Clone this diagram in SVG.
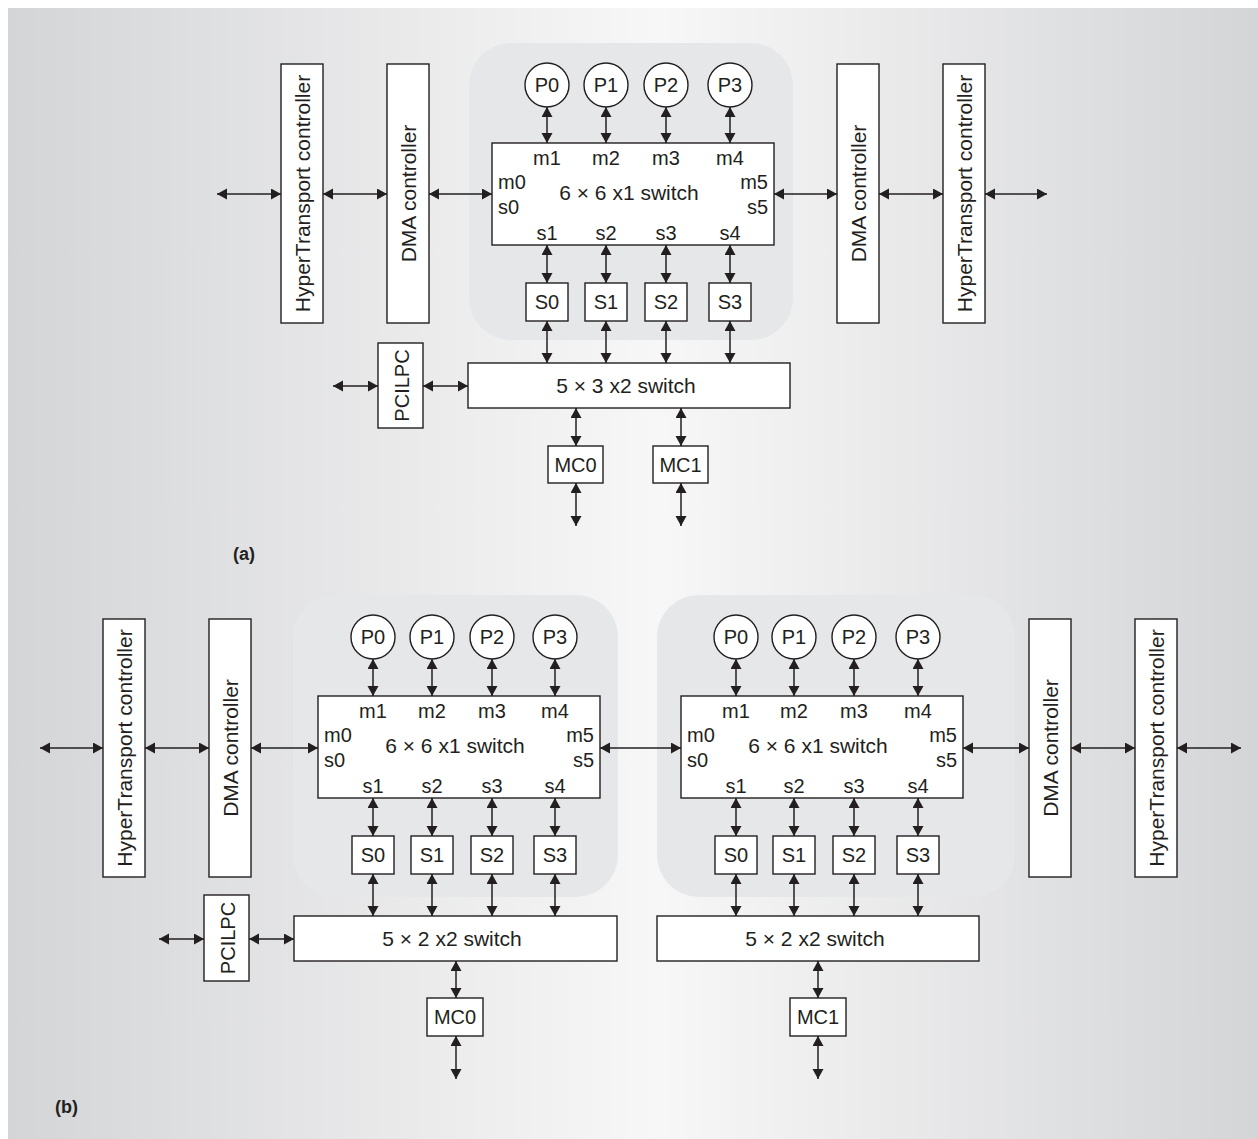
<svg xmlns="http://www.w3.org/2000/svg" width="1258" height="1139" viewBox="0 0 1258 1139">
<defs>
<linearGradient id="bg" x1="0" y1="0" x2="1" y2="0">
<stop offset="0" stop-color="#d4d5d7"/>
<stop offset="0.52" stop-color="#f7f7f7"/>
<stop offset="1" stop-color="#d4d5d7"/>
</linearGradient>
<marker id="ah" markerUnits="userSpaceOnUse" markerWidth="11" markerHeight="12" refX="10" refY="5.5" orient="auto-start-reverse">
<path d="M0,0 L10,5.5 L0,11 z" fill="#231f20"/>
</marker>
</defs>
<style>
.box{fill:#fff;stroke:#231f20;stroke-width:1.4}
.zone{fill:#e6e7e8}
.t{font-family:"Liberation Sans",Arial,Helvetica,sans-serif;font-size:20px;fill:#231f20}
.big{font-size:21px}
.c{text-anchor:middle}
.r{text-anchor:end}
.lab{font-family:"Liberation Sans",Arial,Helvetica,sans-serif;font-size:18px;font-weight:bold;fill:#231f20}
.cn line{stroke:#231f20;stroke-width:1.5;marker-start:url(#ah);marker-end:url(#ah)}
</style>
<rect x="0" y="0" width="1258" height="1139" fill="#fff"/>
<rect x="8" y="8" width="1250" height="1131" fill="url(#bg)"/>

<!-- zones -->
<rect class="zone" x="469" y="43" width="324" height="297" rx="42"/>
<rect class="zone" x="293" y="595" width="325" height="302" rx="42"/>
<rect class="zone" x="657" y="595" width="358" height="302" rx="42"/>

<!-- ===== Panel (a) ===== -->
<g id="a-ht-left"><rect class="box" x="281" y="64" width="42" height="259"/><text class="t big c" transform="translate(310,193.5) rotate(-90)">HyperTransport controller</text></g>
<g id="a-dma-left"><rect class="box" x="387" y="64" width="42" height="259"/><text class="t big c" transform="translate(416,193.5) rotate(-90)">DMA controller</text></g>
<g id="a-dma-right"><rect class="box" x="837" y="64" width="42" height="259"/><text class="t big c" transform="translate(866,193.5) rotate(-90)">DMA controller</text></g>
<g id="a-ht-right"><rect class="box" x="943" y="64" width="42" height="259"/><text class="t big c" transform="translate(972,193.5) rotate(-90)">HyperTransport controller</text></g>

<g id="a-p0"><circle class="box" cx="547" cy="85" r="22"/><text class="t c" x="547" y="92">P0</text></g>
<g id="a-p1"><circle class="box" cx="606" cy="85" r="22"/><text class="t c" x="606" y="92">P1</text></g>
<g id="a-p2"><circle class="box" cx="666" cy="85" r="22"/><text class="t c" x="666" y="92">P2</text></g>
<g id="a-p3"><circle class="box" cx="730" cy="85" r="22"/><text class="t c" x="730" y="92">P3</text></g>

<g id="a-switch6">
<rect class="box" x="492" y="143" width="282" height="102"/>
<text class="t big c" x="629" y="200">6 × 6 x1 switch</text>
<text class="t c" x="547" y="165">m1</text><text class="t c" x="606" y="165">m2</text><text class="t c" x="666" y="165">m3</text><text class="t c" x="730" y="165">m4</text>
<text class="t c" x="547" y="240">s1</text><text class="t c" x="606" y="240">s2</text><text class="t c" x="666" y="240">s3</text><text class="t c" x="730" y="240">s4</text>
<text class="t" x="498" y="189">m0</text><text class="t" x="498" y="214">s0</text>
<text class="t r" x="768" y="189">m5</text><text class="t r" x="768" y="214">s5</text>
</g>

<g id="a-s0"><rect class="box" x="526" y="283" width="42" height="38"/><text class="t c" x="547" y="309">S0</text></g>
<g id="a-s1"><rect class="box" x="585" y="283" width="42" height="38"/><text class="t c" x="606" y="309">S1</text></g>
<g id="a-s2"><rect class="box" x="645" y="283" width="42" height="38"/><text class="t c" x="666" y="309">S2</text></g>
<g id="a-s3"><rect class="box" x="709" y="283" width="42" height="38"/><text class="t c" x="730" y="309">S3</text></g>

<g id="a-switch5"><rect class="box" x="468" y="363" width="322" height="45"/><text class="t big c" x="626" y="393">5 × 3 x2 switch</text></g>
<g id="a-pcilpc"><rect class="box" x="378" y="343" width="45" height="85"/><text class="t c" transform="translate(408.5,385.5) rotate(-90)">PCILPC</text></g>
<g id="a-mc0"><rect class="box" x="548" y="446" width="55" height="37"/><text class="t c" x="575.5" y="472">MC0</text></g>
<g id="a-mc1"><rect class="box" x="653" y="446" width="55" height="37"/><text class="t c" x="680.5" y="472">MC1</text></g>
<text class="lab" x="233" y="560">(a)</text>

<!-- ===== Panel (b) ===== -->
<g id="b-ht-left"><rect class="box" x="103" y="619" width="42" height="258"/><text class="t big c" transform="translate(132,748) rotate(-90)">HyperTransport controller</text></g>
<g id="b-dma-left"><rect class="box" x="209" y="619" width="42" height="258"/><text class="t big c" transform="translate(238,748) rotate(-90)">DMA controller</text></g>
<g id="b-dma-right"><rect class="box" x="1029" y="619" width="42" height="258"/><text class="t big c" transform="translate(1058,748) rotate(-90)">DMA controller</text></g>
<g id="b-ht-right"><rect class="box" x="1135" y="619" width="42" height="258"/><text class="t big c" transform="translate(1164,748) rotate(-90)">HyperTransport controller</text></g>

<g id="b-l-p0"><circle class="box" cx="373" cy="637" r="22"/><text class="t c" x="373" y="644">P0</text></g>
<g id="b-l-p1"><circle class="box" cx="432" cy="637" r="22"/><text class="t c" x="432" y="644">P1</text></g>
<g id="b-l-p2"><circle class="box" cx="492" cy="637" r="22"/><text class="t c" x="492" y="644">P2</text></g>
<g id="b-l-p3"><circle class="box" cx="555" cy="637" r="22"/><text class="t c" x="555" y="644">P3</text></g>
<g id="b-r-p0"><circle class="box" cx="736" cy="637" r="22"/><text class="t c" x="736" y="644">P0</text></g>
<g id="b-r-p1"><circle class="box" cx="794" cy="637" r="22"/><text class="t c" x="794" y="644">P1</text></g>
<g id="b-r-p2"><circle class="box" cx="854" cy="637" r="22"/><text class="t c" x="854" y="644">P2</text></g>
<g id="b-r-p3"><circle class="box" cx="918" cy="637" r="22"/><text class="t c" x="918" y="644">P3</text></g>

<g id="b-l-switch6">
<rect class="box" x="318" y="696" width="282" height="102"/>
<text class="t big c" x="455" y="753">6 × 6 x1 switch</text>
<text class="t c" x="373" y="718">m1</text><text class="t c" x="432" y="718">m2</text><text class="t c" x="492" y="718">m3</text><text class="t c" x="555" y="718">m4</text>
<text class="t c" x="373" y="793">s1</text><text class="t c" x="432" y="793">s2</text><text class="t c" x="492" y="793">s3</text><text class="t c" x="555" y="793">s4</text>
<text class="t" x="324" y="742">m0</text><text class="t" x="324" y="767">s0</text>
<text class="t r" x="594" y="742">m5</text><text class="t r" x="594" y="767">s5</text>
</g>
<g id="b-r-switch6">
<rect class="box" x="681" y="696" width="282" height="102"/>
<text class="t big c" x="818" y="753">6 × 6 x1 switch</text>
<text class="t c" x="736" y="718">m1</text><text class="t c" x="794" y="718">m2</text><text class="t c" x="854" y="718">m3</text><text class="t c" x="918" y="718">m4</text>
<text class="t c" x="736" y="793">s1</text><text class="t c" x="794" y="793">s2</text><text class="t c" x="854" y="793">s3</text><text class="t c" x="918" y="793">s4</text>
<text class="t" x="687" y="742">m0</text><text class="t" x="687" y="767">s0</text>
<text class="t r" x="957" y="742">m5</text><text class="t r" x="957" y="767">s5</text>
</g>

<g id="b-l-s0"><rect class="box" x="352" y="836" width="42" height="38"/><text class="t c" x="373" y="862">S0</text></g>
<g id="b-l-s1"><rect class="box" x="411" y="836" width="42" height="38"/><text class="t c" x="432" y="862">S1</text></g>
<g id="b-l-s2"><rect class="box" x="471" y="836" width="42" height="38"/><text class="t c" x="492" y="862">S2</text></g>
<g id="b-l-s3"><rect class="box" x="534" y="836" width="42" height="38"/><text class="t c" x="555" y="862">S3</text></g>
<g id="b-r-s0"><rect class="box" x="715" y="836" width="42" height="38"/><text class="t c" x="736" y="862">S0</text></g>
<g id="b-r-s1"><rect class="box" x="773" y="836" width="42" height="38"/><text class="t c" x="794" y="862">S1</text></g>
<g id="b-r-s2"><rect class="box" x="833" y="836" width="42" height="38"/><text class="t c" x="854" y="862">S2</text></g>
<g id="b-r-s3"><rect class="box" x="897" y="836" width="42" height="38"/><text class="t c" x="918" y="862">S3</text></g>

<g id="b-l-switch5"><rect class="box" x="294" y="916" width="323" height="45"/><text class="t big c" x="452" y="946">5 × 2 x2 switch</text></g>
<g id="b-r-switch5"><rect class="box" x="657" y="916" width="322" height="45"/><text class="t big c" x="815" y="946">5 × 2 x2 switch</text></g>
<g id="b-pcilpc"><rect class="box" x="204" y="895" width="45" height="86"/><text class="t c" transform="translate(234.5,938) rotate(-90)">PCILPC</text></g>
<g id="b-mc0"><rect class="box" x="427" y="998" width="56" height="38"/><text class="t c" x="455" y="1024">MC0</text></g>
<g id="b-mc1"><rect class="box" x="790" y="998" width="56" height="38"/><text class="t c" x="818" y="1024">MC1</text></g>
<text class="lab" x="55" y="1113">(b)</text>

<!-- connectors -->
<g id="connectors" class="cn">
<line x1="217" y1="194" x2="281" y2="194"/>
<line x1="323" y1="194" x2="387" y2="194"/>
<line x1="429" y1="194" x2="492" y2="194"/>
<line x1="774" y1="194" x2="837" y2="194"/>
<line x1="879" y1="194" x2="943" y2="194"/>
<line x1="985" y1="194" x2="1047" y2="194"/>
<line x1="547" y1="107" x2="547" y2="143"/>
<line x1="606" y1="107" x2="606" y2="143"/>
<line x1="666" y1="107" x2="666" y2="143"/>
<line x1="730" y1="107" x2="730" y2="143"/>
<line x1="547" y1="245" x2="547" y2="283"/>
<line x1="606" y1="245" x2="606" y2="283"/>
<line x1="666" y1="245" x2="666" y2="283"/>
<line x1="730" y1="245" x2="730" y2="283"/>
<line x1="547" y1="321" x2="547" y2="363"/>
<line x1="606" y1="321" x2="606" y2="363"/>
<line x1="666" y1="321" x2="666" y2="363"/>
<line x1="730" y1="321" x2="730" y2="363"/>
<line x1="333" y1="386" x2="378" y2="386"/>
<line x1="423" y1="386" x2="468" y2="386"/>
<line x1="576" y1="408" x2="576" y2="446"/>
<line x1="681" y1="408" x2="681" y2="446"/>
<line x1="576" y1="483" x2="576" y2="526"/>
<line x1="681" y1="483" x2="681" y2="526"/>

<line x1="40" y1="748" x2="103" y2="748"/>
<line x1="145" y1="748" x2="209" y2="748"/>
<line x1="251" y1="748" x2="318" y2="748"/>
<line x1="600" y1="748" x2="681" y2="748"/>
<line x1="963" y1="748" x2="1029" y2="748"/>
<line x1="1071" y1="748" x2="1135" y2="748"/>
<line x1="1177" y1="748" x2="1241" y2="748"/>
<line x1="373" y1="659" x2="373" y2="696"/>
<line x1="432" y1="659" x2="432" y2="696"/>
<line x1="492" y1="659" x2="492" y2="696"/>
<line x1="555" y1="659" x2="555" y2="696"/>
<line x1="736" y1="659" x2="736" y2="696"/>
<line x1="794" y1="659" x2="794" y2="696"/>
<line x1="854" y1="659" x2="854" y2="696"/>
<line x1="918" y1="659" x2="918" y2="696"/>
<line x1="373" y1="798" x2="373" y2="836"/>
<line x1="432" y1="798" x2="432" y2="836"/>
<line x1="492" y1="798" x2="492" y2="836"/>
<line x1="555" y1="798" x2="555" y2="836"/>
<line x1="736" y1="798" x2="736" y2="836"/>
<line x1="794" y1="798" x2="794" y2="836"/>
<line x1="854" y1="798" x2="854" y2="836"/>
<line x1="918" y1="798" x2="918" y2="836"/>
<line x1="373" y1="874" x2="373" y2="916"/>
<line x1="432" y1="874" x2="432" y2="916"/>
<line x1="492" y1="874" x2="492" y2="916"/>
<line x1="555" y1="874" x2="555" y2="916"/>
<line x1="736" y1="874" x2="736" y2="916"/>
<line x1="794" y1="874" x2="794" y2="916"/>
<line x1="854" y1="874" x2="854" y2="916"/>
<line x1="918" y1="874" x2="918" y2="916"/>
<line x1="159" y1="939" x2="204" y2="939"/>
<line x1="249" y1="939" x2="294" y2="939"/>
<line x1="456" y1="961" x2="456" y2="998"/>
<line x1="456" y1="1036" x2="456" y2="1079"/>
<line x1="818" y1="961" x2="818" y2="998"/>
<line x1="818" y1="1036" x2="818" y2="1079"/>
</g>
</svg>
